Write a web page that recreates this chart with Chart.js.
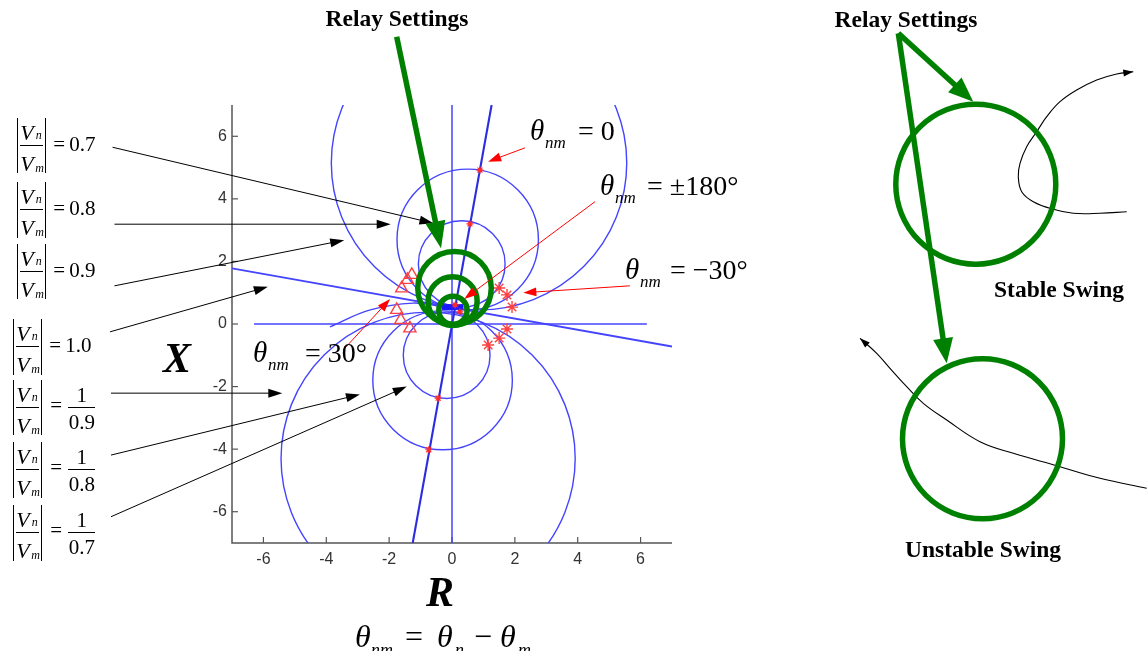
<!DOCTYPE html>
<html><head><meta charset="utf-8">
<script src="https://cdn.jsdelivr.net/npm/chart.js@4.4.0/dist/chart.umd.min.js"></script>
<style>
html,body{margin:0;padding:0;background:#fff;}
#wrap{position:relative;width:1147px;height:651px;overflow:hidden;background:#fff;}
canvas{position:absolute;}
#main{left:0;top:0;}
#side{left:840px;top:0;}
#txt{position:absolute;left:0;top:0;width:1147px;height:651px;pointer-events:none;}
.t{position:absolute;white-space:nowrap;font-family:"Liberation Serif","Times New Roman",serif;color:#000;line-height:1;}
.bars{position:absolute;box-sizing:border-box;border-left:1.4px solid #000;border-right:1.4px solid #000;}
.rule{position:absolute;height:1px;background:#000;}
</style></head><body>
<div id="wrap">
<canvas id="main" width="1147" height="651"></canvas>
<canvas id="side" width="307" height="651"></canvas>
<div id="txt"></div>
</div>
<script>
// ================= DATA (main R-X plane) =================
const ratioLabels   = ['0.7', '0.8', '0.9', '1/0.9', '1/0.8', '1/0.7'];
const ratioCircleCx = [0.31, 0.50, 0.86, -0.76, -0.30, -0.17];
const ratioCircleCy = [1.92, 2.70, 5.15, -4.30, -1.80, -1.00];
const ratioCircleR  = [1.38, 2.25, 4.70, 4.68, 2.22, 1.38];

const unityLineR = [-7, 7];
const unityLineX = [1.78, -0.72];

const thetaZeroR = [1.26, -1.25];
const thetaZeroX = [7, -7];

const rAxisR = [-6.3, 6.2];
const rAxisX = [0, 0];
const xAxisR = [0, 0];
const xAxisX = [7, -7];

const sourceR = [-0.32, 0.35];
const sourceX = [0.54, 0.54];

const thetaArcLeftR  = [-3.88, -2.60, -1.24, -0.30];
const thetaArcLeftX  = [-0.09, 0.45, 0.67, 0.55];

const theta30R  = [-1.28, -1.42, -1.60, -1.76, -1.63, -1.34];
const theta30X  = [1.57, 1.41, 1.14, 0.45, 0.13, -0.14];
const thetaM30R = [1.50, 1.75, 1.91, 1.75, 1.50, 1.15];
const thetaM30X = [1.15, 0.93, 0.54, -0.16, -0.45, -0.67];
const crossingR = [0.89, 0.57, -0.44, -0.74, 0.10, 0.25];
const crossingX = [4.92, 3.20, -2.37, -4.02, 0.61, 0.39];

const relayCx = [0.08, 0.02, 0.03];
const relayCy = [1.15, 0.73, 0.44];
const relayR  = [1.17, 0.78, 0.45];

const xTickValues = [-6, -4, -2, 0, 2, 4, 6];
const xTickLabels = ['-6', '-4', '-2', '0', '2', '4', '6'];
const yTickValues = [-6, -4, -2, 0, 2, 4, 6];
const yTickLabels = ['-6', '-4', '-2', '0', '2', '4', '6'];

// ================= DATA (schematic swing panel) =================
const swingCircleCx = [135.8, 142.5];
const swingCircleCy = [184.2, 438.8];
const swingCircleR  = [80, 80];
const stableSwingX = [286.7, 260, 233.3, 213.3, 193.3, 181.7, 178.3, 180, 186.7, 196.7, 206.7, 220, 236.7, 256.7, 276.7, 293.3];
const stableSwingY = [211.7, 213.3, 213.3, 209.3, 201.7, 191.7, 176.7, 163.3, 146.7, 131.7, 116.7, 101.7, 90, 80, 74, 71.7];
const unstableSwingX = [306.7, 260, 216.7, 173.3, 140, 106.7, 83.3, 66.7, 50, 36.7, 20];
const unstableSwingY = [488.3, 478.3, 465.7, 453.3, 441.7, 420, 403.3, 386.7, 368.3, 353.3, 338.3];

// ================= ANNOTATIONS (in chart data units) =================
const labelArrows = [
  {from: [-10.80, 5.65], to: [-0.59, 3.22]},
  {from: [-10.74, 3.19], to: [-1.95, 3.19]},
  {from: [-10.74, 1.22], to: [-3.43, 2.68]},
  {from: [-10.88, -0.25], to: [-5.86, 1.19]},
  {from: [-10.85, -2.21], to: [-5.40, -2.21]},
  {from: [-10.85, -4.19], to: [-2.93, -2.25]},
  {from: [-10.85, -6.16], to: [-1.44, -2.00]}
];
const noteArrows = [
  {from: [2.32, 5.63], to: [1.15, 5.19]},
  {from: [4.55, 3.91], to: [0.39, 0.80]},
  {from: [5.66, 1.22], to: [2.27, 1.00]},
  {from: [-3.46, -0.83], to: [-1.97, 0.80]}
];
const relayArrow = {from: [-1.76, 9.18], to: [-0.35, 2.42]};
const swingArrows = [
  {from: [58.3, 33.3], to: [133.3, 101.7]},
  {from: [58.3, 33.3], to: [106.7, 363.3]}
];

// ================= helpers =================
const pts = (xs, ys) => xs.map((x, i) => ({x: x, y: ys[i]}));
const BLUE = '#4444ff';
const GREEN = '#008000';

function arrow(ctx, x1, y1, x2, y2, color, lw, hl, hw) {
  const a = Math.atan2(y2 - y1, x2 - x1);
  const bx = x2 - hl * Math.cos(a), by = y2 - hl * Math.sin(a);
  ctx.save();
  ctx.strokeStyle = color; ctx.fillStyle = color; ctx.lineWidth = lw;
  ctx.beginPath(); ctx.moveTo(x1, y1); ctx.lineTo(bx + Math.cos(a), by + Math.sin(a)); ctx.stroke();
  ctx.beginPath();
  ctx.moveTo(x2, y2);
  ctx.lineTo(bx + hw / 2 * Math.sin(a), by - hw / 2 * Math.cos(a));
  ctx.lineTo(bx - hw / 2 * Math.sin(a), by + hw / 2 * Math.cos(a));
  ctx.closePath(); ctx.fill();
  ctx.restore();
}
function circ(ctx, xs, ys, cx, cy, r) {
  const px = xs.getPixelForValue(cx), py = ys.getPixelForValue(cy);
  const rx = Math.abs(xs.getPixelForValue(cx + r) - px);
  const ry = Math.abs(ys.getPixelForValue(cy + r) - py);
  ctx.beginPath(); ctx.ellipse(px, py, rx, ry, 0, 0, Math.PI * 2); ctx.stroke();
}

// ================= main chart =================
const mainPlugin = {
  id: 'rxPlane',
  beforeDatasetsDraw(chart) {
    const {ctx, chartArea: a, scales: {x, y}} = chart;
    ctx.save();
    ctx.strokeStyle = '#555'; ctx.lineWidth = 1.5;
    ctx.beginPath();
    ctx.moveTo(a.left, a.top); ctx.lineTo(a.left, a.bottom); ctx.lineTo(a.right, a.bottom);
    ctx.stroke();
    ctx.lineWidth = 1.2;
    xTickValues.forEach(v => { const p = x.getPixelForValue(v); ctx.beginPath(); ctx.moveTo(p, a.bottom); ctx.lineTo(p, a.bottom - 6); ctx.stroke(); });
    yTickValues.forEach(v => { const p = y.getPixelForValue(v); ctx.beginPath(); ctx.moveTo(a.left, p); ctx.lineTo(a.left + 6, p); ctx.stroke(); });
    ctx.beginPath(); ctx.rect(a.left, a.top, a.right - a.left, a.bottom - a.top); ctx.clip();
    ctx.strokeStyle = BLUE; ctx.lineWidth = 1.4;
    ratioLabels.forEach((_, i) => circ(ctx, x, y, ratioCircleCx[i], ratioCircleCy[i], ratioCircleR[i]));
    ctx.restore();
  },
  afterDatasetsDraw(chart) {
    const {ctx, scales: {x, y}} = chart;
    ctx.save();
    ctx.strokeStyle = GREEN; ctx.lineWidth = 5.5;
    relayCx.forEach((_, i) => circ(ctx, x, y, relayCx[i], relayCy[i], relayR[i]));
    ctx.restore();
  },
  afterDraw(chart) {
    const {ctx, scales: {x, y}} = chart;
    const P = (p) => [x.getPixelForValue(p[0]), y.getPixelForValue(p[1])];
    labelArrows.forEach(a => { const f = P(a.from), t = P(a.to); arrow(ctx, f[0], f[1], t[0], t[1], '#000', 1, 14, 9); });
    noteArrows.forEach(a => { const f = P(a.from), t = P(a.to); arrow(ctx, f[0], f[1], t[0], t[1], '#ff0000', 1, 13, 9); });
    const f = P(relayArrow.from), t = P(relayArrow.to);
    arrow(ctx, f[0], f[1], t[0], t[1], GREEN, 5.5, 27, 20);
  }
};

const lineDs = (xs, ys, color, w, tension) => ({data: pts(xs, ys), showLine: true, borderColor: color, borderWidth: w, pointRadius: 0, fill: false, tension: tension || 0});

new Chart(document.getElementById('main'), {
  type: 'scatter',
  data: {
    datasets: [
      {data: pts(crossingR, crossingX), pointStyle: 'star', pointRadius: 3.5, borderColor: '#ff2a2a', borderWidth: 1.2, showLine: false},
      {data: pts(theta30R, theta30X), pointStyle: 'triangle', pointRadius: 7, borderColor: '#ff4040', backgroundColor: 'rgba(0,0,0,0)', borderWidth: 1.4, showLine: false},
      {data: pts(thetaM30R, thetaM30X), pointStyle: 'star', pointRadius: 6, borderColor: '#ff4040', borderWidth: 1.4, showLine: false},
      lineDs(sourceR, sourceX, '#1a1aff', 6),
      lineDs(thetaZeroR, thetaZeroX, '#2c2ce0', 2.1),
      lineDs(unityLineR, unityLineX, BLUE, 1.8),
      lineDs(rAxisR, rAxisX, BLUE, 1.5),
      lineDs(xAxisR, xAxisX, BLUE, 1.5),
      lineDs(thetaArcLeftR, thetaArcLeftX, BLUE, 1.3, 0.4)
    ]
  },
  options: {
    responsive: false, animation: false, events: [],
    layout: {padding: {left: 192, right: 475, top: 105, bottom: 78}},
    plugins: {legend: {display: false}, tooltip: {enabled: false}},
    scales: {
      x: {
        type: 'linear', min: -7, max: 7,
        afterBuildTicks: s => { s.ticks = xTickValues.map(v => ({value: v})); },
        afterFit: s => { s.height = 30; },
        ticks: {callback: (v, i) => xTickLabels[i], color: '#333', font: {family: 'Liberation Sans', size: 16}, padding: 7, maxRotation: 0, autoSkip: false},
        grid: {display: false, drawTicks: false}, border: {display: false}
      },
      y: {
        type: 'linear', min: -7, max: 7,
        afterBuildTicks: s => { s.ticks = yTickValues.map(v => ({value: v})); },
        afterFit: s => { s.width = 40; },
        ticks: {callback: (v, i) => yTickLabels[i], color: '#333', font: {family: 'Liberation Sans', size: 16}, padding: 5, autoSkip: false},
        grid: {display: false, drawTicks: false}, border: {display: false}
      }
    }
  },
  plugins: [mainPlugin]
});

// ================= swing schematic =================
const sidePlugin = {
  id: 'swing',
  afterDatasetsDraw(chart) {
    const {ctx, scales: {x, y}} = chart;
    ctx.save();
    ctx.strokeStyle = GREEN; ctx.lineWidth = 5.5;
    swingCircleCx.forEach((_, i) => circ(ctx, x, y, swingCircleCx[i], swingCircleCy[i], swingCircleR[i]));
    ctx.restore();
    const P = (a, b) => [x.getPixelForValue(a), y.getPixelForValue(b)];
    swingArrows.forEach(a => { const f = P(a.from[0], a.from[1]), t = P(a.to[0], a.to[1]); arrow(ctx, f[0], f[1], t[0], t[1], GREEN, 5.5, 25, 20); });
    [[stableSwingX, stableSwingY], [unstableSwingX, unstableSwingY]].forEach(([xs, ys]) => {
      const n = xs.length;
      const f = P(xs[n - 2], ys[n - 2]), t = P(xs[n - 1], ys[n - 1]);
      const a = Math.atan2(t[1] - f[1], t[0] - f[0]);
      const hl = 10, hw = 7, bx = t[0] - hl * Math.cos(a), by = t[1] - hl * Math.sin(a);
      ctx.save(); ctx.fillStyle = '#000'; ctx.beginPath(); ctx.moveTo(t[0], t[1]);
      ctx.lineTo(bx + hw / 2 * Math.sin(a), by - hw / 2 * Math.cos(a));
      ctx.lineTo(bx - hw / 2 * Math.sin(a), by + hw / 2 * Math.cos(a));
      ctx.closePath(); ctx.fill(); ctx.restore();
    });
  }
};
new Chart(document.getElementById('side'), {
  type: 'scatter',
  data: {
    datasets: [
      {data: pts(stableSwingX, stableSwingY), showLine: true, borderColor: '#000', borderWidth: 1.1, pointRadius: 0, tension: 0.4},
      {data: pts(unstableSwingX, unstableSwingY), showLine: true, borderColor: '#000', borderWidth: 1.1, pointRadius: 0, tension: 0.4}
    ]
  },
  options: {
    responsive: false, animation: false, events: [],
    layout: {padding: 0},
    plugins: {legend: {display: false}, tooltip: {enabled: false}},
    scales: {
      x: {type: 'linear', display: false, min: 0, max: 307},
      y: {type: 'linear', display: false, min: 0, max: 651, reverse: true}
    }
  },
  plugins: [sidePlugin]
});

// ================= text =================
const layer = document.getElementById('txt');
function put(txt, x, base, size, o) {
  o = o || {};
  const el = document.createElement('span');
  el.className = 't';
  el.textContent = txt;
  el.style.fontSize = size + 'px';
  el.style.top = (base - 0.8375 * size) + 'px';
  el.style.left = x + 'px';
  if (o.italic) el.style.fontStyle = 'italic';
  if (o.bold) el.style.fontWeight = 'bold';
  if (o.center) el.style.transform = 'translateX(-50%)';
  layer.appendChild(el);
  return el;
}
function box(cls, l, t, w, h) {
  const d = document.createElement('div');
  d.className = cls;
  d.style.left = l + 'px'; d.style.top = t + 'px'; d.style.width = w + 'px'; d.style.height = h + 'px';
  layer.appendChild(d);
}
function ratioLabel(L, T, H, value, den) {
  box('bars', L, T, 29, H);
  put('V', L + 3, T + 22, 22, {italic: true});
  put('n', L + 18.5, T + 21, 12, {italic: true});
  box('rule', L + 3, T + 26.5, 23, 1);
  put('V', L + 3, T + 53.5, 22, {italic: true});
  put('m', L + 18, T + 54, 12, {italic: true});
  if (den === undefined) {
    put('=', L + 36, T + 34, 21);
    put(value, L + 52, T + 34, 21);
  } else {
    put('=', L + 37, T + 33, 21);
    box('rule', L + 55, T + 27.3, 27, 1);
    put(value, L + 68.5, T + 23, 21, {center: true});
    put(den, L + 68.5, T + 50, 21, {center: true});
  }
}
ratioLabel(17.3, 118, 55, '0.7');
ratioLabel(17.3, 182, 56, '0.8');
ratioLabel(17.3, 244, 55, '0.9');
ratioLabel(13.3, 319, 56, '1.0');
ratioLabel(13.3, 380, 55, '1', '0.9');
ratioLabel(13.3, 442, 56, '1', '0.8');
ratioLabel(13.3, 505, 56, '1', '0.7');

function thetaLabel(x, base, rest, restX) {
  put('θ', x, base, 29, {italic: true});
  put('nm', x + 15, base + 8, 17, {italic: true});
  put(rest, restX, base, 28);
}
thetaLabel(530, 140, '= 0', 578);
thetaLabel(600, 195, '= ±180°', 647);
thetaLabel(625, 279, '= −30°', 670);
thetaLabel(253, 362, '= 30°', 305);

put('X', 163, 372, 42, {italic: true, bold: true});
put('R', 426, 606, 42, {italic: true, bold: true});

put('θ', 355, 647, 32, {italic: true});
put('nm', 371, 656, 18, {italic: true});
put('=', 405, 647, 32);
put('θ', 437, 647, 32, {italic: true});
put('n', 455, 656, 18, {italic: true});
put('−', 474, 647, 32);
put('θ', 500, 647, 32, {italic: true});
put('m', 518, 656, 18, {italic: true});

put('Relay Settings', 397, 26.5, 23.5, {bold: true, center: true});
put('Relay Settings', 906, 28, 23.5, {bold: true, center: true});
put('Stable Swing', 1059, 297.5, 23.5, {bold: true, center: true});
put('Unstable Swing', 983, 557.5, 23.5, {bold: true, center: true});
</script>
</body></html>
